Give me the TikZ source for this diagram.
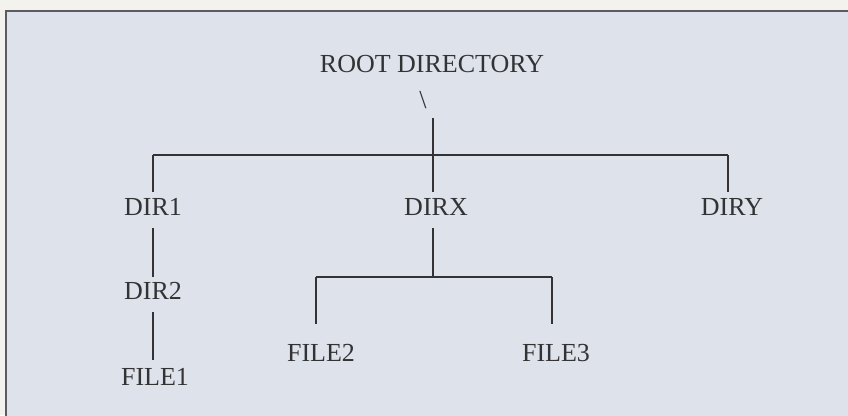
\documentclass[tikz,border=0pt]{standalone}
\usepackage{fontspec}
\setmainfont{Liberation Serif}
\usetikzlibrary{positioning}
\definecolor{paper}{HTML}{F3F2ED}
\definecolor{panel}{HTML}{DEE2EA}
\definecolor{ink}{HTML}{333335}
\definecolor{frame}{HTML}{5A5C62}

\begin{document}
\begin{tikzpicture}[x=1pt,y=-1pt,
 entry/.style={inner sep=0pt,text height=18pt,text depth=0pt,text=ink,
 font=\fontsize{26}{30}\selectfont},
 link/.style={draw=ink,line width=1.4pt}]
\clip (0,0) rectangle (848,415);
\fill[paper] (0,0) rectangle (848,415);
\draw[frame,line width=1.4pt,fill=panel] (6,11) rectangle (870,440);
% tree
\node[entry] (root) at (432,63) {ROOT DIRECTORY};
\node[entry] (slash) at (423,99) {\textbackslash};
\coordinate (hub) at (433,155);
\coordinate (left) at (153,155);
\coordinate (right) at (728,155);
\node[entry] (dirone) at (153,206) {DIR1};
\node[entry] (dirx) at (436,206) {DIRX};
\node[entry] (diry) at (732,206) {DIRY};
\node[entry] (dirtwo) at (153,290) {DIR2};
\node[entry] (fileone) at (155,376) {FILE1};
\coordinate (barl) at (316,277);
\coordinate (barr) at (552,277);
\node[entry] (filetwo) at (321,352) {FILE2};
\node[entry] (filethree) at (556,352) {FILE3};
\draw[link] ([yshift=-10pt]slash.south -| hub)--(hub);
\draw[link] (left)--(right);
\draw[link,shorten >=5pt] (left)--(left |- dirone.north);
\draw[link,shorten >=5pt] (hub)--(hub |- dirx.north);
\draw[link,shorten >=5pt] (right)--(right |- diry.north);
\draw[link,shorten <=13pt,shorten >=4pt] (dirone.south)--(dirtwo.north);
\draw[link,shorten <=13pt,shorten >=7pt] (dirtwo.south)--(dirtwo.south |- fileone.north);
\draw[link,shorten <=13pt] (dirx.south -| hub)--(hub |- barl);
\draw[link] (barl)--(barr);
\draw[link,shorten >=19pt] (barl)--(barl |- filetwo.north);
\draw[link,shorten >=19pt] (barr)--(barr |- filethree.north);
\end{tikzpicture}
\end{document}
